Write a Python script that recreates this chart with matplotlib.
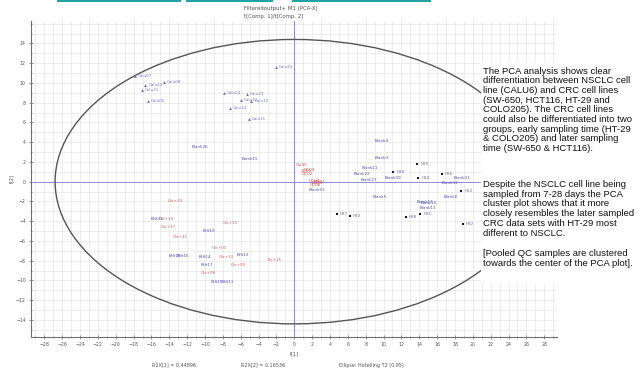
import matplotlib
matplotlib.use("Agg")
import matplotlib.pyplot as plt
from matplotlib.patches import Ellipse, Rectangle
from matplotlib.ticker import MultipleLocator

# ---------------- data ----------------
calu_labels = ["Calu07", "Calu22", "Calu21", "Calu08", "Calu05", "Calu24",
               "Calu23", "Calu12", "Calu10", "Calu14", "Calu11", "Calu25"]
calu_x = [-17.9, -16.7, -17.1, -14.6, -16.4, -7.9, -5.3, -6.0, -4.8, -7.2, -5.1, -2.1]
calu_y = [10.7, 9.8, 9.3, 10.1, 8.2, 9.0, 8.9, 8.3, 8.2, 7.5, 6.3, 11.6]

blank_labels = ["Blank26", "Blank15", "Blank03", "Blank4", "Blank4", "Blank11",
                "Blank22", "Blank27", "Blank09", "Blank5", "Blank32", "Blank01",
                "Blank8", "Blank17", "Blank16", "Blank13"]
blank_x = [-10.6, -5.0, 2.5, 9.8, 9.8, 8.5, 7.6, 8.4, 11.1, 9.6, 17.5, 18.8,
           17.5, 14.6, 15.1, 15.0]
blank_y = [3.55, 2.27, -0.84, 4.16, 2.44, 1.42, 0.81, 0.17, 0.34, -1.58, -0.16,
           0.41, -1.52, -2.05, -2.15, -2.7]

clo_labels = ["Clo+30", "Clo+34", "Clo+37", "Clo+31", "Clo+10", "Clo+01",
              "Clo+13", "Clo+03", "Clo+06", "Clo+15"]
clo_x = [-13.35, -14.3, -14.1, -12.8, -7.2, -8.4, -7.6, -6.3, -9.6, -2.2]
clo_y = [-1.93, -3.79, -4.63, -5.64, -4.22, -6.7, -7.6, -8.46, -9.2, -7.95]

bht_labels = ["BHt33", "BHt19", "BHt15", "BHt16", "BHt14", "BHt12",
              "BHt17", "BHt18", "BHt11"]
bht_x = [-15.4, -9.6, -13.35, -12.45, -10.0, -5.7, -9.8, -8.7, -7.4]
bht_y = [-3.79, -5.0, -7.54, -7.54, -7.6, -7.44, -8.46, -10.15, -10.15]

qc_labels = ["Clo05", "QC01", "QC02", "QC03", "QC04", "QC05", "QC06", "QC07"]
qc_x = [0.8, 1.3, 1.5, 1.7, 2.2, 2.6, 2.4, 2.8]
qc_y = [1.7, 1.1, 0.8, 1.2, 0.1, -0.1, -0.3, 0.0]

h_labels = ["H25", "H20", "H24", "H26", "H22", "H27", "H23", "H28", "H21", "H22"]
h_x = [13.8, 11.1, 13.9, 16.5, 18.7, 4.75, 6.2, 12.5, 14.1, 18.9]
h_y = [1.77, 1.02, 0.41, 0.75, -0.94, -3.28, -3.48, -3.55, -3.28, -4.33]

x_ticks = list(range(-28, 29, 2))
y_ticks = list(range(-14, 15, 2))

title_lines = ["Filteredoutput+ M1 (PCA-X)", "t[Comp. 1]/t[Comp. 2]"]
stats_texts = ["R2X[1] = 0.44896", "R2X[2] = 0.16536", "Ellipse: Hotelling T2 (0.95)"]

para1 = ("The PCA analysis shows clear\n"
         "differentiation between NSCLC cell\n"
         "line (CALU6) and CRC cell lines\n"
         "(SW-650, HCT116, HT-29 and\n"
         "COLO205). The CRC cell lines\n"
         "could also be differentiated into two\n"
         "groups, early sampling time (HT-29\n"
         "& COLO205) and later sampling\n"
         "time (SW-650 & HCT116).")
para2 = ("Despite the NSCLC cell line being\n"
         "sampled from 7-28 days the PCA\n"
         "cluster plot shows that it more\n"
         "closely resembles the later sampled\n"
         "CRC data sets with HT-29 most\n"
         "different to NSCLC.")
para3 = ("[Pooled QC samples are clustered\n"
         "towards the center of the PCA plot].")

# ---------------- figure ----------------
W, H = 639, 368
fig = plt.figure(figsize=(W / 100, H / 100), dpi=100)
fig.patch.set_facecolor("white")

def fx(px):
    return px / W

def fy(py):
    return 1 - py / H

ax = fig.add_axes([fx(31), fy(336.7), fx(556.7) - fx(31), fy(20.7) - fy(336.7)])
ax.set_xlim(-29.5, 29.4)
ax.set_ylim(-15.7, 16.3)

for s in ["top", "right"]:
    ax.spines[s].set_visible(False)
for s in ["left", "bottom"]:
    ax.spines[s].set_color("#707070")
    ax.spines[s].set_linewidth(0.8)

ax.set_xticks(x_ticks)
ax.set_yticks(y_ticks)
ax.xaxis.set_minor_locator(MultipleLocator(1))
ax.yaxis.set_minor_locator(MultipleLocator(1))
ax.tick_params(axis="both", which="major", labelsize=3.3, length=2.5, width=0.5,
               direction="inout", colors="#707070", labelcolor="#555555", pad=2.5)
ax.tick_params(axis="both", which="minor", length=1.5, width=0.4,
               direction="inout", colors="#808080")
ax.grid(True, which="both", color="#e6e6e6", linewidth=0.5)
ax.set_axisbelow(True)

ax.axhline(0, color="#8c8cd8", linewidth=0.7, zorder=1)
ax.axvline(0, color="#8c8cd8", linewidth=0.7, zorder=1)

ell = Ellipse((0, 0), 2 * 26.8, 2 * 14.4, fill=False, edgecolor="#555555",
              linewidth=1.0, zorder=2)
ax.add_patch(ell)

ax.set_xlabel("t[1]", fontsize=3.5, color="#555555", labelpad=3)
ax.set_ylabel("t[2]", fontsize=3.5, color="#555555", labelpad=1)

lab_fs = 3.0
# Calu (NSCLC) triangles
ax.scatter(calu_x, calu_y, marker="^", s=4, color="#6a6ab8", zorder=3, linewidths=0)
for lx, ly, t in zip(calu_x, calu_y, calu_labels):
    ax.text(lx + 0.35, ly, t, fontsize=lab_fs, color="#7a7ac0", va="center", ha="left", zorder=4)

# blank labels (text only)
for lx, ly, t in zip(blank_x, blank_y, blank_labels):
    ax.text(lx, ly, t, fontsize=lab_fs, color="#5555a8", va="center", ha="center", zorder=4)

# red labels
for lx, ly, t in zip(clo_x, clo_y, clo_labels):
    ax.text(lx, ly, t, fontsize=lab_fs, color="#c86464", va="center", ha="center", zorder=4)

# BHt labels
for lx, ly, t in zip(bht_x, bht_y, bht_labels):
    ax.text(lx, ly, t, fontsize=lab_fs, color="#5555b0", va="center", ha="center", zorder=4)

# QC cluster
for lx, ly, t in zip(qc_x, qc_y, qc_labels):
    ax.text(lx, ly, t, fontsize=lab_fs, color="#c45050", va="center", ha="center", zorder=4)

# H squares
ax.scatter(h_x, h_y, marker="s", s=4, color="#151530", zorder=3, linewidths=0)
for lx, ly, t in zip(h_x, h_y, h_labels):
    ax.text(lx + 0.35, ly, t, fontsize=lab_fs, color="#6a6a9a", va="center", ha="left", zorder=4)

# title
fig.text(fx(244), fy(8.3), title_lines[0], fontsize=3.9, color="#555555", va="center", ha="left")
fig.text(fx(244), fy(16.5), title_lines[1], fontsize=3.9, color="#555555", va="center", ha="left")

# stats below
for cx, t in zip([174, 263, 371], stats_texts):
    fig.text(fx(cx), fy(365), t, fontsize=3.5, color="#555555", va="center", ha="center")

# teal strips at the very top (cut-off link underlines)
for x0, x1 in [(57, 181), (186, 273), (292, 431)]:
    fig.add_artist(Rectangle((fx(x0), fy(2)), fx(x1) - fx(x0), fy(0) - fy(2),
                             transform=fig.transFigure, facecolor="#1fa3a3",
                             edgecolor="none", zorder=10))

# white text box and explanatory text
fig.add_artist(Rectangle((fx(481), fy(284)), 1 - fx(481), fy(62) - fy(284),
                         transform=fig.transFigure, facecolor="white",
                         edgecolor="none", zorder=10))
tkw = dict(fontsize=6.8, family="Liberation Sans", color="#111111", ha="left",
           va="top", linespacing=1.1, zorder=11)
fig.text(fx(483), fy(66.5), para1, **tkw)
fig.text(fx(483), fy(180), para2, **tkw)
fig.text(fx(483), fy(249), para3, **tkw)

fig.savefig("out.png", dpi=100)
